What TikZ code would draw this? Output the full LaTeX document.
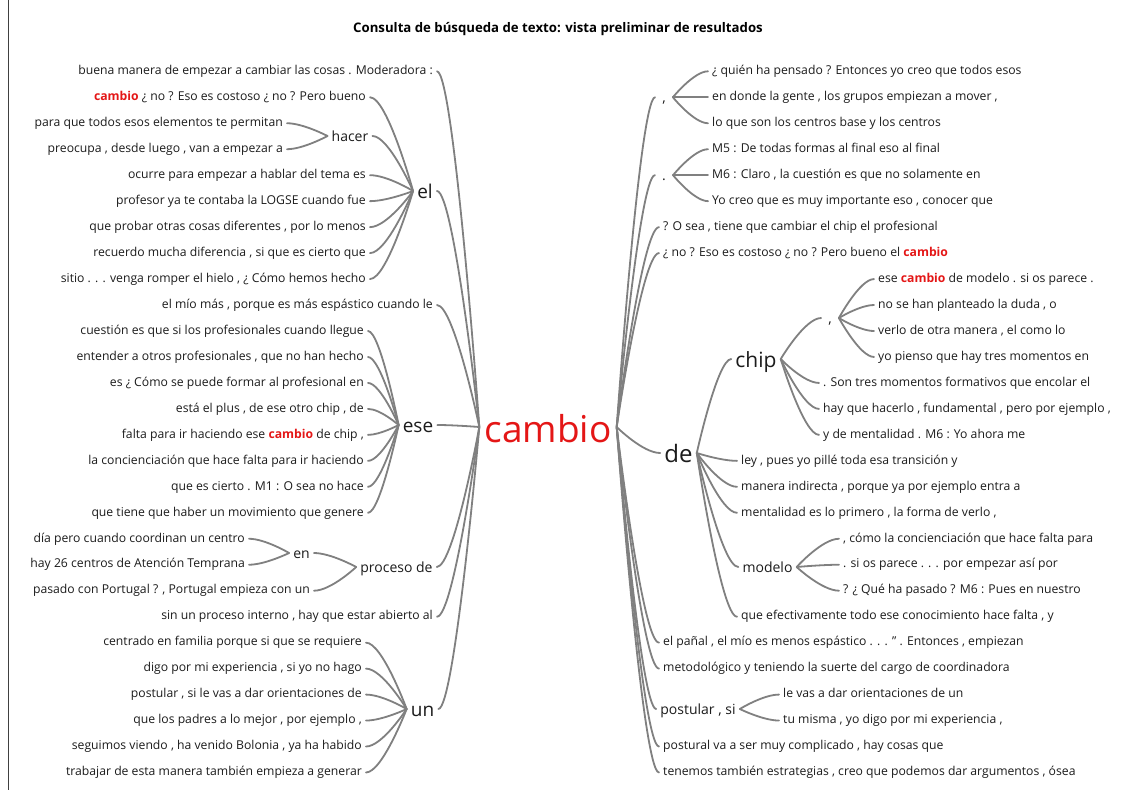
\documentclass[tikz,border=0pt]{standalone}
\usepackage{fontspec}
\setmainfont{Open Sans}
\usetikzlibrary{calc}

\definecolor{linkgray}{RGB}{128,128,128}
\definecolor{hitred}{RGB}{228,22,22}
\definecolor{ink}{RGB}{28,28,28}

% vertical position of text row #1
\newcommand{\rowy}[1]{71.3+25.97*#1}
% highlighted search term inside a context line
\newcommand{\hit}{\textcolor{hitred}{\textbf{cambio}}}

\tikzset{
  leaf/.style={font=\fontsize{12.2}{14}\selectfont, text=ink, inner xsep=4pt, inner ysep=0pt,
               text height=9.2pt, text depth=2.7pt},
  lleaf/.style={leaf, anchor=east},
  rleaf/.style={leaf, anchor=west},
  midword/.style={font=\fontsize{14}{16}\selectfont, text=ink, inner xsep=4pt, inner ysep=0pt,
               text height=10.6pt, text depth=0pt},
  bigword/.style={font=\fontsize{19}{22}\selectfont, text=ink, inner xsep=4pt, inner ysep=0pt,
               text height=14.4pt, text depth=0pt},
  punct/.style={font=\fontsize{14}{16}\selectfont, text=ink, inner xsep=7pt, inner ysep=0pt,
               text height=10.6pt, text depth=0pt},
  conn/.style={draw=linkgray, line width=1.8pt, line cap=round},
  wt/.style={to path={let \p1=(\tikztostart), \p2=(\tikztotarget) in
             .. controls (\p1) and ({\x1+0.6*(\x2-\x1)},\y2) .. (\p2)}},
}

\begin{document}
\begin{tikzpicture}[x=1pt,y=-1pt]
\useasboundingbox[fill=white] (0,0) rectangle (1132,790);

% frame edge on the left
\draw[black!75, line width=0.8pt] (8,0) -- (8,790);

\node[font=\fontsize{13.2}{15}\selectfont\bfseries, text=black] (title) at (558,29)
  {Consulta de búsqueda de texto: vista preliminar de resultados};

% root word
\node[font=\fontsize{37}{40}\selectfont, text=hitred, inner xsep=5pt, inner ysep=0pt,
      text height=30pt, text depth=0pt, anchor=base] (cambio) at (548,442) {cambio};

% ---------- left branch words ----------
\node[midword] (hacer) at (350,136) {hacer};
\node[bigword] (el)    at (425,191) {el};
\node[bigword] (ese)   at (418,425) {ese};
\node[midword] (en)    at (301.5,553) {en};
\node[midword] (proc)  at (396.5,567) {proceso de};
\node[bigword] (un)    at (422.5,709) {un};

% ---------- left context lines ----------
\node[lleaf] (L0)  at (437,{\rowy{0}})  {buena manera de empezar a cambiar las cosas . Moderadora :};
\node[lleaf] (L1)  at (370,{\rowy{1}})  {\hit{} ¿ no ? Eso es costoso ¿ no ? Pero bueno};
\node[lleaf] (L2)  at (287,{\rowy{2}})  {para que todos esos elementos te permitan};
\node[lleaf] (L3)  at (287,{\rowy{3}})  {preocupa , desde luego , van a empezar a};
\node[lleaf] (L4)  at (370,{\rowy{4}})  {ocurre para empezar a hablar del tema es};
\node[lleaf] (L5)  at (370,{\rowy{5}})  {profesor ya te contaba la LOGSE cuando fue};
\node[lleaf] (L6)  at (370,{\rowy{6}})  {que probar otras cosas diferentes , por lo menos};
\node[lleaf] (L7)  at (370,{\rowy{7}})  {recuerdo mucha diferencia , si que es cierto que};
\node[lleaf] (L8)  at (370,{\rowy{8}})  {sitio . . . venga romper el hielo , ¿ Cómo hemos hecho};
\node[lleaf] (L9)  at (437,{\rowy{9}})  {el mío más , porque es más espástico cuando le};
\node[lleaf] (L10) at (368,{\rowy{10}}) {cuestión es que si los profesionales cuando llegue};
\node[lleaf] (L11) at (368,{\rowy{11}}) {entender a otros profesionales , que no han hecho};
\node[lleaf] (L12) at (368,{\rowy{12}}) {es ¿ Cómo se puede formar al profesional en};
\node[lleaf] (L13) at (368,{\rowy{13}}) {está el plus , de ese otro chip , de};
\node[lleaf] (L14) at (368,{\rowy{14}}) {falta para ir haciendo ese \hit{} de chip ,};
\node[lleaf] (L15) at (368,{\rowy{15}}) {la concienciación que hace falta para ir haciendo};
\node[lleaf] (L16) at (368,{\rowy{16}}) {que es cierto . M1 : O sea no hace};
\node[lleaf] (L17) at (368,{\rowy{17}}) {que tiene que haber un movimiento que genere};
\node[lleaf] (L18) at (249,{\rowy{18}}) {día pero cuando coordinan un centro};
\node[lleaf] (L19) at (249,{\rowy{19}}) {hay 26 centros de Atención Temprana};
\node[lleaf] (L20) at (314,{\rowy{20}}) {pasado con Portugal ? , Portugal empieza con un};
\node[lleaf] (L21) at (437,{\rowy{21}}) {sin un proceso interno , hay que estar abierto al};
\node[lleaf] (L22) at (366,{\rowy{22}}) {centrado en familia porque si que se requiere};
\node[lleaf] (L23) at (366,{\rowy{23}}) {digo por mi experiencia , si yo no hago};
\node[lleaf] (L24) at (366,{\rowy{24}}) {postular , si le vas a dar orientaciones de};
\node[lleaf] (L25) at (366,{\rowy{25}}) {que los padres a lo mejor , por ejemplo ,};
\node[lleaf] (L26) at (366,{\rowy{26}}) {seguimos viendo , ha venido Bolonia , ya ha habido};
\node[lleaf] (L27) at (366,{\rowy{27}}) {trabajar de esta manera también empieza a generar};

% ---------- right branch words ----------
\node[punct] (cm1)   at (664,{\rowy{1}}) {,};
\node[punct] (dot)   at (664,{\rowy{4}}) {.};
\node[font=\fontsize{24}{28}\selectfont, text=ink, inner xsep=4pt, inner ysep=0pt,
      text height=18pt, text depth=0pt] (de) at (678.5,453) {de};
\node[font=\fontsize{21}{24}\selectfont, text=ink, inner xsep=4pt, inner ysep=0pt,
      text height=16pt, text depth=0pt] (chip) at (756,359) {chip};
\node[punct] (cm2)   at (830,318) {,};
\node[midword] (modelo) at (767.5,567) {modelo};
\node[midword] (post)   at (698,709) {postular , si};

% ---------- right context lines ----------
\node[rleaf] (R0)  at (708,{\rowy{0}})  {¿ quién ha pensado ? Entonces yo creo que todos esos};
\node[rleaf] (R1)  at (708,{\rowy{1}})  {en donde la gente , los grupos empiezan a mover ,};
\node[rleaf] (R2)  at (708,{\rowy{2}})  {lo que son los centros base y los centros};
\node[rleaf] (R3)  at (708,{\rowy{3}})  {M5 : De todas formas al final eso al final};
\node[rleaf] (R4)  at (708,{\rowy{4}})  {M6 : Claro , la cuestión es que no solamente en};
\node[rleaf] (R5)  at (708,{\rowy{5}})  {Yo creo que es muy importante eso , conocer que};
\node[rleaf] (R6)  at (659,{\rowy{6}})  {? O sea , tiene que cambiar el chip el profesional};
\node[rleaf] (R7)  at (659,{\rowy{7}})  {¿ no ? Eso es costoso ¿ no ? Pero bueno el \hit};
\node[rleaf] (R8)  at (874,{\rowy{8}})  {ese \hit{} de modelo . si os parece .};
\node[rleaf] (R9)  at (874,{\rowy{9}})  {no se han planteado la duda , o};
\node[rleaf] (R10) at (874,{\rowy{10}}) {verlo de otra manera , el como lo};
\node[rleaf] (R11) at (874,{\rowy{11}}) {yo pienso que hay tres momentos en};
\node[rleaf] (R12) at (819,{\rowy{12}}) {. Son tres momentos formativos que encolar el};
\node[rleaf] (R13) at (819,{\rowy{13}}) {hay que hacerlo , fundamental , pero por ejemplo ,};
\node[rleaf] (R14) at (819,{\rowy{14}}) {y de mentalidad . M6 : Yo ahora me};
\node[rleaf] (R15) at (737,{\rowy{15}}) {ley , pues yo pillé toda esa transición y};
\node[rleaf] (R16) at (737,{\rowy{16}}) {manera indirecta , porque ya por ejemplo entra a};
\node[rleaf] (R17) at (737,{\rowy{17}}) {mentalidad es lo primero , la forma de verlo ,};
\node[rleaf] (R18) at (839,{\rowy{18}}) {, cómo la concienciación que hace falta para};
\node[rleaf] (R19) at (839,{\rowy{19}}) {. si os parece . . . por empezar así por};
\node[rleaf] (R20) at (839,{\rowy{20}}) {? ¿ Qué ha pasado ? M6 : Pues en nuestro};
\node[rleaf] (R21) at (737,{\rowy{21}}) {que efectivamente todo ese conocimiento hace falta , y};
\node[rleaf] (R22) at (659,{\rowy{22}}) {el pañal , el mío es menos espástico . . . " . Entonces , empiezan};
\node[rleaf] (R23) at (659,{\rowy{23}}) {metodológico y teniendo la suerte del cargo de coordinadora};
\node[rleaf] (R24) at (779,{\rowy{24}}) {le vas a dar orientaciones de un};
\node[rleaf] (R25) at (779,{\rowy{25}}) {tu misma , yo digo por mi experiencia ,};
\node[rleaf] (R26) at (659,{\rowy{26}}) {postural va a ser muy complicado , hay cosas que};
\node[rleaf] (R27) at (659,{\rowy{27}}) {tenemos también estrategias , creo que podemos dar argumentos , ósea};

% ---------- connectors, left side ----------
\foreach \c in {L0,el,L9,ese,proc,L21,un}
  \draw[conn] (cambio.west) to[wt] (\c.east);
\foreach \c in {L1,hacer,L4,L5,L6,L7,L8}
  \draw[conn] (el.west) to[wt] (\c.east);
\foreach \c in {L2,L3}
  \draw[conn] (hacer.west) to[wt] (\c.east);
\foreach \c in {L10,L11,L12,L13,L14,L15,L16,L17}
  \draw[conn] (ese.west) to[wt] (\c.east);
\foreach \c in {en,L20}
  \draw[conn] (proc.west) to[wt] (\c.east);
\foreach \c in {L18,L19}
  \draw[conn] (en.west) to[wt] (\c.east);
\foreach \c in {L22,L23,L24,L25,L26,L27}
  \draw[conn] (un.west) to[wt] (\c.east);

% ---------- connectors, right side ----------
\foreach \c in {cm1,dot,R6,R7,de,R22,R23,post,R26,R27}
  \draw[conn] (cambio.east) to[wt] (\c.west);
\foreach \c in {R0,R1,R2}
  \draw[conn] (cm1.east) to[wt] (\c.west);
\foreach \c in {R3,R4,R5}
  \draw[conn] (dot.east) to[wt] (\c.west);
\foreach \c in {chip,R15,R16,R17,modelo,R21}
  \draw[conn] (de.east) to[wt] (\c.west);
\foreach \c in {cm2,R12,R13,R14}
  \draw[conn] (chip.east) to[wt] (\c.west);
\foreach \c in {R8,R9,R10,R11}
  \draw[conn] (cm2.east) to[wt] (\c.west);
\foreach \c in {R18,R19,R20}
  \draw[conn] (modelo.east) to[wt] (\c.west);
\foreach \c in {R24,R25}
  \draw[conn] (post.east) to[wt] (\c.west);
\end{tikzpicture}
\end{document}
